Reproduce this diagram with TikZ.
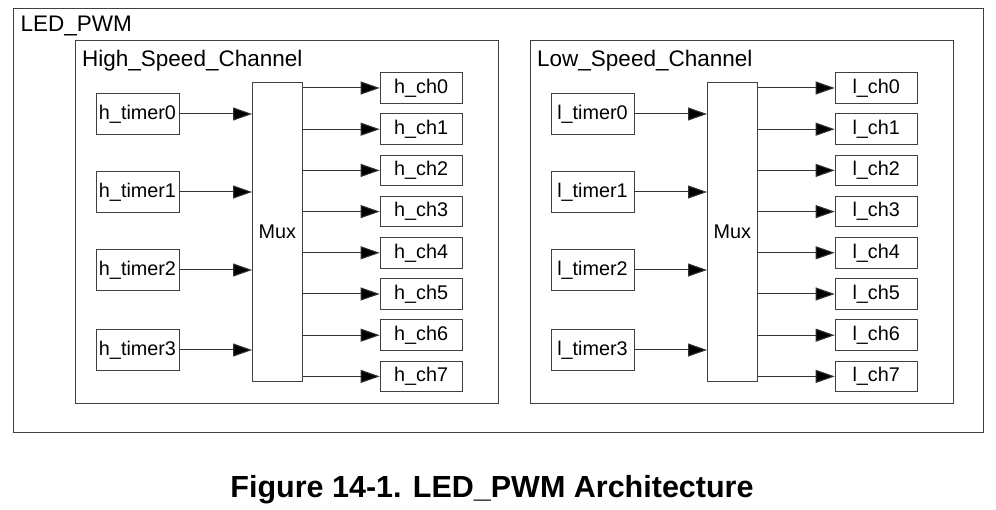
\documentclass[tikz,border=0pt]{standalone}
\usepackage{fontspec}
\setmainfont{Liberation Sans}
\usetikzlibrary{arrows.meta}

\begin{document}
\begin{tikzpicture}
  [x=1pt,y=-1pt,
  frame/.style={draw=black!75, line width=1pt},
  blk/.style={draw=black!75, line width=1pt, inner sep=0pt, font=\fontsize{19.8}{22}\selectfont},
  timerbox/.style={blk, minimum width=83pt, minimum height=41pt},
  chbox/.style={blk, minimum width=82pt, minimum height=30.5pt},
  muxbox/.style={blk, minimum width=49.5pt, minimum height=299pt},
  sig/.style={draw=black!80, line width=1pt, -{Triangle[length=19pt,width=13pt,fill=black]}},
  title/.style={anchor=base west, inner sep=0pt, font=\fontsize{22.5}{26}\selectfont},
  ]
  \useasboundingbox (0,0) rectangle (996,510);
  % Outer block
  \draw[frame] (13,9) rectangle (983,432);
  \node[title] (ledpwm) at (20.5,31.5) {LED\_PWM};
  \foreach \p/\X/\name in {h/75/High, l/530/Low}{
    % Channel group
    \draw[frame] (\X,41) rectangle ++(423,363);
    \node[title] (\p grp) at (\X+7,67) {\name\_Speed\_Channel};
    % Mux
    \node[muxbox] (\p mux) at (\X+202.3,232.2) {Mux};
    % Timers
    \foreach \t/\y in {0/114,1/192,2/270,3/350}{
      \node[timerbox] (\p timer\t) at (\X+62.5,\y) {\p\_timer\t};
      \draw[sig] (\p timer\t.east) -- (\p timer\t.east -| \p mux.west);
    }
    % Channels
    \foreach \c in {0,...,7}{
      \node[chbox] (\p ch\c) at (\X+346.2,88+41.2*\c) {\p\_ch\c};
      \draw[sig] (\p ch\c.west -| \p mux.east) -- (\p ch\c.west);
    }
  }
  % Caption
  \node[anchor=base, inner sep=0pt, font=\fontsize{30.5}{34}\selectfont\bfseries] (cap) at (492,497) {Figure 14-1. LED\_PWM Architecture};
\end{tikzpicture}
\end{document}
